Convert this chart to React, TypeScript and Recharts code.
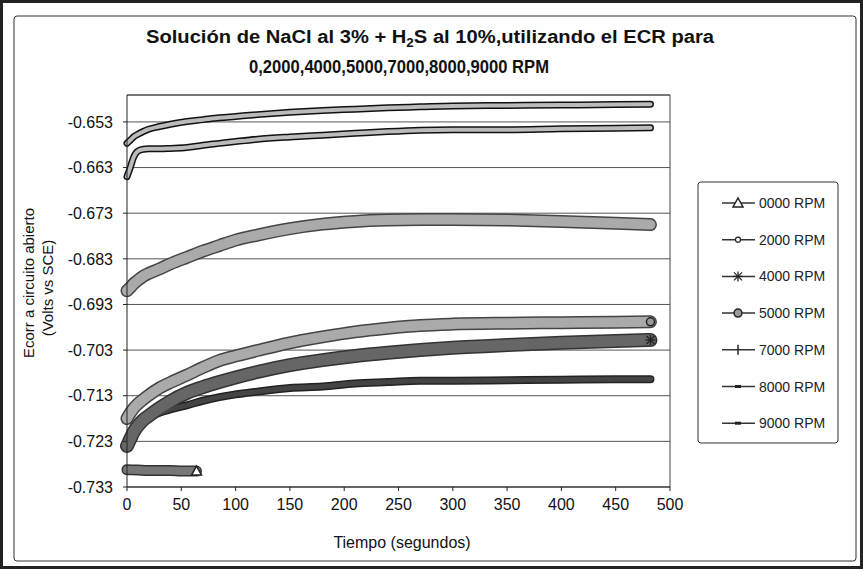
import { CartesianGrid, Line, LineChart, ReferenceLine, XAxis, YAxis } from "recharts";

const FONT = "Arial, 'Liberation Sans', sans-serif";

// tiempo (s) shared by the long runs
const times = [0, 3, 6, 10, 15, 20, 30, 40, 55, 70, 85, 100, 120, 150, 180, 210, 240, 270, 300, 350, 400, 450, 482];
// 0 RPM run was short
const times0 = [0, 10, 20, 30, 40, 50, 64];

const rpm0000 = [-0.7292, -0.7293, -0.7294, -0.7294, -0.7294, -0.7295, -0.7295];
const rpm2000 = [-0.7225, -0.7215, -0.7205, -0.7195, -0.7185, -0.7177, -0.7167, -0.716, -0.7151, -0.7141, -0.7133, -0.7127, -0.7121, -0.7113, -0.711, -0.7103, -0.71, -0.7097, -0.7097, -0.7096, -0.7095, -0.7094, -0.7094];
const rpm4000 = [-0.724, -0.7225, -0.721, -0.7196, -0.7183, -0.7174, -0.7157, -0.7142, -0.7124, -0.7111, -0.71, -0.709, -0.7078, -0.7063, -0.7052, -0.7043, -0.7036, -0.703, -0.7025, -0.7019, -0.7014, -0.701, -0.7008];
const rpm5000 = [-0.718, -0.7168, -0.7158, -0.7148, -0.7138, -0.7129, -0.7113, -0.7101, -0.7085, -0.7068, -0.7053, -0.7043, -0.7031, -0.7014, -0.7001, -0.699, -0.6982, -0.6976, -0.6973, -0.6971, -0.697, -0.6969, -0.6968];
const rpm7000 = [-0.69, -0.6893, -0.6885, -0.6877, -0.6868, -0.6862, -0.6852, -0.6841, -0.6827, -0.6813, -0.6801, -0.6789, -0.6778, -0.6764, -0.6754, -0.6748, -0.6745, -0.6744, -0.6744, -0.6745, -0.6748, -0.6752, -0.6755];
const rpm8000 = [-0.665, -0.663, -0.6608, -0.6594, -0.659, -0.6589, -0.6589, -0.6588, -0.6586, -0.6581, -0.6577, -0.6573, -0.6568, -0.6563, -0.6559, -0.6555, -0.6551, -0.6548, -0.6547, -0.6547, -0.6545, -0.6544, -0.6543];
const rpm9000 = [-0.6577, -0.657, -0.6563, -0.6557, -0.6551, -0.6546, -0.654, -0.6535, -0.6529, -0.6525, -0.6521, -0.6518, -0.6514, -0.6509, -0.6505, -0.6502, -0.6499, -0.6497, -0.6495, -0.6494, -0.6493, -0.6492, -0.6491];

const xTicks = [0, 50, 100, 150, 200, 250, 300, 350, 400, 450, 500];
const yTicks = [-0.733, -0.723, -0.713, -0.703, -0.693, -0.683, -0.673, -0.663, -0.653];

const build = (ts: number[], vs: number[]) => ts.map((t, i) => ({ t, v: vs[i] }));

type Marker = "tri" | "ring" | "star" | "disc" | "bar" | "dash";

// look of each band (dark edge + fill) and its legend marker
const series = [
  { name: "0000 RPM", data: build(times0, rpm0000), edge: "#333", fill: "#777", w: 9, marker: "tri" as Marker },
  { name: "2000 RPM", data: build(times, rpm2000), edge: "#222", fill: "#444", w: 6, marker: "ring" as Marker },
  { name: "4000 RPM", data: build(times, rpm4000), edge: "#333", fill: "#666", w: 12, marker: "star" as Marker },
  { name: "5000 RPM", data: build(times, rpm5000), edge: "#444", fill: "#aaa", w: 11, marker: "disc" as Marker },
  { name: "7000 RPM", data: build(times, rpm7000), edge: "#444", fill: "#aaa", w: 11, marker: "bar" as Marker },
  { name: "8000 RPM", data: build(times, rpm8000), edge: "#111", fill: "#bbb", w: 5, marker: "dash" as Marker },
  { name: "9000 RPM", data: build(times, rpm9000), edge: "#111", fill: "#bbb", w: 5, marker: "dash" as Marker },
];

function MarkerGlyph({ kind, x, y }: { kind: Marker; x: number; y: number }) {
  const c = "#222";
  if (kind === "tri")
    return <polygon points={`${x - 5},${y + 4} ${x + 5},${y + 4} ${x},${y - 5}`} fill="#fff" stroke={c} strokeWidth={1.5} />;
  if (kind === "ring") return <circle cx={x} cy={y} r={2.5} fill="#fff" stroke={c} strokeWidth={1.2} />;
  if (kind === "star")
    return (
      <g stroke={c} strokeWidth={1.3}>
        <line x1={x - 5} y1={y} x2={x + 5} y2={y} />
        <line x1={x} y1={y - 5} x2={x} y2={y + 5} />
        <line x1={x - 4} y1={y - 4} x2={x + 4} y2={y + 4} />
        <line x1={x - 4} y1={y + 4} x2={x + 4} y2={y - 4} />
      </g>
    );
  if (kind === "disc") return <circle cx={x} cy={y} r={4} fill="#999" stroke={c} strokeWidth={1.5} />;
  if (kind === "bar") return <line x1={x} y1={y - 5} x2={x} y2={y + 5} stroke={c} strokeWidth={1.5} />;
  return <rect x={x - 3} y={y - 1.5} width={6} height={3} fill={c} />;
}

const endDot = (kind: Marker, last: number) => (p: any) =>
  p.index === last ? (
    <g key={`end-${p.index}`}>
      <MarkerGlyph kind={kind} x={p.cx} y={p.cy} />
    </g>
  ) : (
    <g key={`d-${p.index}`} />
  );

export default function App() {
  const legendTop = 203;
  const legendStep = 36.7;

  return (
    <div style={{ position: "absolute", left: 0, top: 0, width: 863, height: 569, background: "#fff", fontFamily: FONT }}>
      <LineChart width={863} height={569} margin={{ top: 95, right: 193, bottom: 42, left: 60 }}>
        <CartesianGrid vertical={false} stroke="#555" strokeWidth={1} />
        <XAxis
          type="number"
          dataKey="t"
          domain={[0, 500]}
          ticks={xTicks}
          height={40}
          tickSize={4}
          tickMargin={8}
          stroke="#222"
          tick={{ fill: "#111", fontSize: 16, fontFamily: FONT }}
        />
        <YAxis
          type="number"
          dataKey="v"
          domain={[-0.733, -0.6471]}
          ticks={yTicks}
          width={67}
          tickSize={4}
          tickMargin={10}
          stroke="#222"
          tickFormatter={(v: number) => v.toFixed(3)}
          tick={{ fill: "#111", fontSize: 16, fontFamily: FONT }}
        />
        <ReferenceLine y={-0.6471} stroke="#444" />
        <ReferenceLine x={500} stroke="#444" />
        {series.map((s) => (
          <Line
            key={s.name + "-edge"}
            data={s.data}
            dataKey="v"
            type="monotone"
            stroke={s.edge}
            strokeWidth={s.w + 2}
            strokeLinecap="round"
            dot={false}
            isAnimationActive={false}
          />
        ))}
        {series.map((s) => (
          <Line
            key={s.name}
            data={s.data}
            dataKey="v"
            name={s.name}
            type="monotone"
            stroke={s.fill}
            strokeWidth={s.w - 1}
            strokeLinecap="round"
            dot={s.marker === "tri" || s.marker === "disc" || s.marker === "star" ? endDot(s.marker, s.data.length - 1) : false}
            isAnimationActive={false}
          />
        ))}
      </LineChart>

      <svg width={863} height={569} style={{ position: "absolute", left: 0, top: 0, pointerEvents: "none" }}>
        <rect x={1.5} y={1.5} width={860} height={566} fill="none" stroke="#222" strokeWidth={3} />
        <rect x={14} y={16} width={842} height={545} rx={3} fill="none" stroke="#333" strokeWidth={1} />

        <text x={430} y={43} textAnchor="middle" fontSize={18} fontWeight="bold" fill="#111" textLength={568} lengthAdjust="spacingAndGlyphs">
          Solución de NaCl  al 3% +  H<tspan fontSize={12} dy={4}>2</tspan>
          <tspan dy={-4}>S al 10%,utilizando el ECR para</tspan>
        </text>
        <text x={399} y={73} textAnchor="middle" fontSize={18} fontWeight="bold" fill="#111" textLength={300} lengthAdjust="spacingAndGlyphs">
          0,2000,4000,5000,7000,8000,9000 RPM
        </text>

        <text transform="translate(28,283) rotate(-90)" textAnchor="middle" dominantBaseline="central" fontSize={15} fill="#111">
          Ecorr a circuito abierto
        </text>
        <text transform="translate(47,288) rotate(-90)" textAnchor="middle" dominantBaseline="central" fontSize={15} fill="#111">
          (Volts vs SCE)
        </text>
        <text x={402} y={542} textAnchor="middle" dominantBaseline="central" fontSize={16} fill="#111">
          Tiempo (segundos)
        </text>

        <rect x={698} y={182} width={140} height={261} rx={3} fill="#fff" stroke="#333" strokeWidth={1} />
        {series.map((s, i) => {
          const y = legendTop + i * legendStep;
          return (
            <g key={s.name}>
              <line x1={722} y1={y} x2={755} y2={y} stroke="#333" strokeWidth={1.5} />
              <MarkerGlyph kind={s.marker} x={738} y={y} />
              <text x={759} y={y} dominantBaseline="central" fontSize={14} fill="#222">
                {s.name}
              </text>
            </g>
          );
        })}
      </svg>
    </div>
  );
}
